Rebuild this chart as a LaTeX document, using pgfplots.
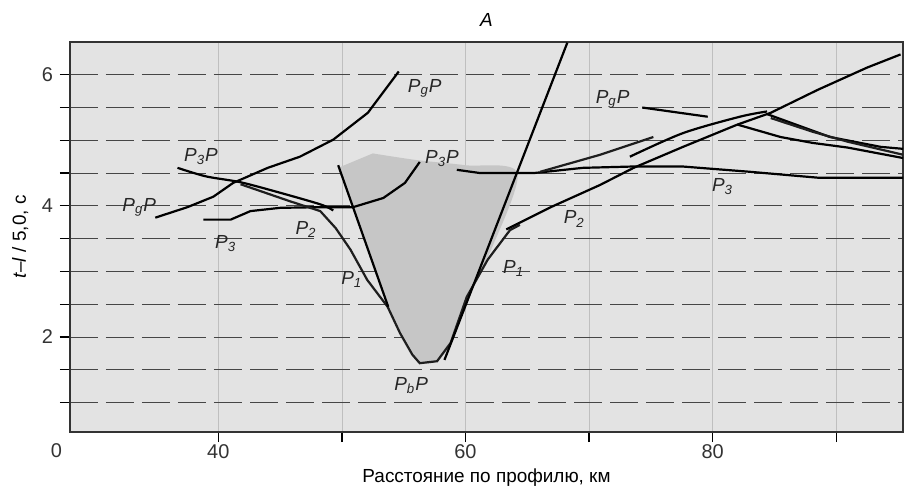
\documentclass[border=0pt]{standalone}
\usepackage{fontspec}
\setmainfont{Liberation Sans}
\usepackage{pgfplots}
\pgfplotsset{compat=1.18}
\usetikzlibrary{calc}
\definecolor{curve}{RGB}{30,30,30}
\newcommand\lab[2]{\textit{P}\textsubscript{\textit{#1}}\textit{#2}}

\begin{document}
\begin{tikzpicture}
\begin{axis}[
    scale only axis,
    width=416.5bp, height=195bp,
    xmin=28, xmax=95.4, ymin=0.55, ymax=6.5,
    axis background/.style={fill=gray!22},
    xtick={40,50,...,90}, xticklabels={40,,60,,80,},
    ytick={2,4,6}, minor ytick={1,1.5,...,6},
    xtick pos=left, ytick pos=left,
    tick align=outside, major tick length=5bp, minor tick length=5bp,
    tick style={black, line width=0.6bp},
    ymajorgrids, yminorgrids, xmajorgrids,
    major y grid style={gray!55!black, dash pattern=on 14bp off 4bp, line width=0.4bp},
    minor y grid style={gray!55!black, dash pattern=on 14bp off 4bp, line width=0.4bp},
    major x grid style={gray!50, line width=0.3bp},
    axis line style={line width=0.9bp, black!80},
    ticklabel style={font=\fontsize{10}{12}\selectfont, black!80},
    xticklabel style={yshift=2bp},
    /pgf/number format/assume math mode=true,
    xlabel={Расстояние по профилю, км},
    xlabel style={at={(axis description cs:0.5,0)}, anchor=center, yshift=-23bp},
    ylabel={\textit{t}–\textit{l} / 5,0, с},
    label style={font=\fontsize{9.5}{11}\selectfont},
    title={\textit{A}},
    title style={font=\fontsize{9.5}{11}\selectfont, yshift=-2bp},
    clip mode=individual,
    cycle list={{curve, no markers, smooth, tension=0.5}},
    every axis plot post/.append style={line width=1.1bp},
]
% shaded zone inside the V
\addplot[fill=gray!45, draw=none, smooth=false] coordinates {
    (49.7,4.58) (53.75,2.46) (54.7,2.06) (55.7,1.73) (56.3,1.60) (57.7,1.63)
    (58.8,1.91) (60.1,2.61) (62.0,3.3) (64.2,4.5) (60,4.62) (56,4.7) (52.5,4.8)
} -- cycle;
% PgP, left
\addplot coordinates {(34.9,3.82) (37.5,3.98) (39.6,4.14) (41.2,4.35) (44.0,4.58)
    (46.6,4.75) (49.3,5.01) (52.1,5.42) (54.6,6.05)};
% P3P, left
\addplot coordinates {(36.7,4.58) (39.0,4.45) (41.8,4.36) (45.0,4.20) (48.3,4.02) (49.3,3.93)};
% P3 left -> P3P middle
\addplot coordinates {(38.8,3.79) (41.0,3.79) (42.6,3.92) (45.0,3.97) (48.25,3.98)
    (50.9,3.98) (53.35,4.12) (55.1,4.35) (56.3,4.67)};
% P2 - P1 - PbP - P1 (V curve)
\addplot coordinates {(41.8,4.33) (45.8,4.07) (48.25,3.92) (49.5,3.66) (50.7,3.33)
    (52.05,2.87) (53.7,2.46) (54.7,2.06) (55.7,1.73) (56.3,1.60) (57.7,1.63)
    (58.8,1.91) (60.1,2.61) (61.8,3.18) (63.6,3.63) (64.4,3.71)};
% straight P1, left
\addplot[smooth=false] coordinates {(49.7,4.62) (53.75,2.46)};
% straight line, right
\addplot[smooth=false] coordinates {(58.3,1.65) (68.24,6.49)};
% P3, right
\addplot coordinates {(59.3,4.55) (61.2,4.50) (65.5,4.50) (69.5,4.58) (73.5,4.60)
    (77.6,4.60) (83.0,4.52) (88.5,4.43) (95.4,4.43)};
% branch from P3 upward
\addplot coordinates {(66.05,4.52) (70.9,4.78) (75.2,5.05)};
% P2, right
\addplot coordinates {(63.3,3.64) (66.9,3.98) (70.9,4.32) (73.6,4.58) (77.6,4.90)
    (82.0,5.24) (84.7,5.42) (88.5,5.77) (92.5,6.11) (95.2,6.31)};
\addplot coordinates {(73.3,4.75) (77.6,5.11) (82.2,5.36) (84.4,5.44)};
% descending branches
\addplot coordinates {(84.4,5.40) (89.5,5.05) (93.6,4.90) (95.4,4.87)};
\addplot coordinates {(84.7,5.34) (88.1,5.13) (90.9,4.98) (95.4,4.78)};
\addplot coordinates {(82.0,5.24) (85.5,5.05) (88.1,4.96) (90.9,4.89) (95.4,4.73)};
% PgP, right
\addplot[smooth=false] coordinates {(74.3,5.50) (79.6,5.36)};

\begin{scope}[every node/.style={font=\fontsize{9.5}{11}\selectfont, text=black!85}]
\node at (axis cs:56.7,5.80) {\lab{g}{P}};
\node at (axis cs:38.6,4.75) {\lab{3}{P}};
\node at (axis cs:33.6,3.97) {\lab{g}{P}};
\node at (axis cs:40.6,3.42) {\lab{3}{}};
\node at (axis cs:47.1,3.64) {\lab{2}{}};
\node at (axis cs:50.8,2.88) {\lab{1}{}};
\node at (axis cs:58.1,4.72) {\lab{3}{P}};
\node at (axis cs:55.6,1.26) {\lab{b}{P}};
\node at (axis cs:63.9,3.04) {\lab{1}{}};
\node at (axis cs:68.8,3.80) {\lab{2}{}};
\node at (axis cs:71.9,5.62) {\lab{g}{P}};
\node at (axis cs:80.8,4.29) {\lab{3}{}};
\node[font=\fontsize{10}{12}\selectfont, text=black!80, yshift=-9.5bp] at (axis cs:26.9,0.55) {0};
\end{scope}
\coordinate (bl) at (rel axis cs:0,0);
\coordinate (tr) at (rel axis cs:1,1);
\end{axis}
\pgfresetboundingbox
\path[use as bounding box] ($(bl)+(-35bp,-33bp)$) rectangle ($(tr)+(2.5bp,21bp)$);
\end{tikzpicture}
\end{document}
